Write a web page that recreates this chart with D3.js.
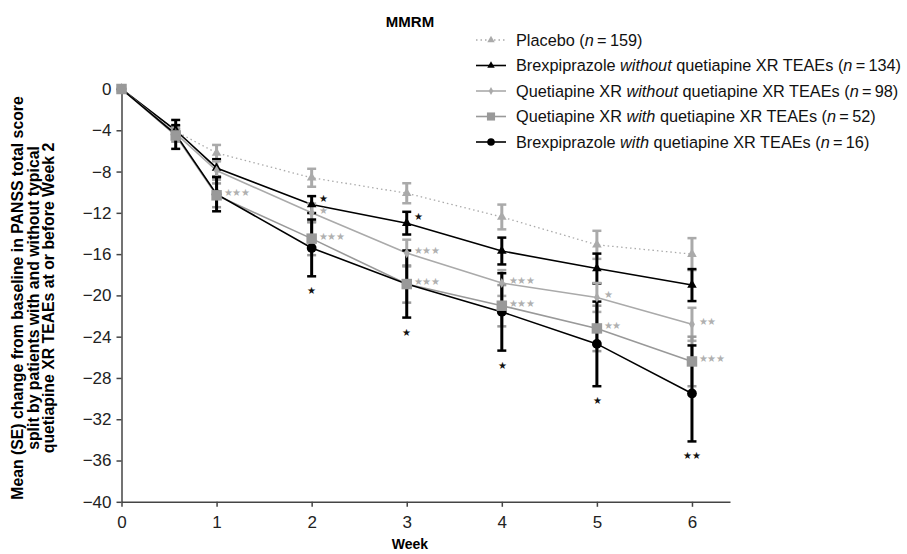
<!DOCTYPE html>
<html>
<head>
<meta charset="utf-8">
<script src="https://cdn.jsdelivr.net/npm/d3@7"></script>
<style>
  body { margin: 0; background: #fff; }
  text { font-family: "Liberation Sans", Arial, sans-serif; }
  .axis path, .axis line { stroke: #444; stroke-width: 1.5; }
</style>
</head>
<body>
<div class="plot"></div>
<script>
// Data
var weeks = [0, 0.57, 1, 2, 3, 4, 5, 6];

var placeboMean = [0, -4.1, -6.2, -8.6, -10.1, -12.4, -15.1, -16.0];
var placeboSE   = [0, 0.5, 0.78, 0.87, 0.97, 1.2, 1.36, 1.55];

var brexWithoutMean = [0, -4.0, -7.65, -11.2, -13.0, -15.7, -17.4, -19.0];
var brexWithoutSE   = [0, 0.5, 0.85, 0.82, 1.1, 1.3, 1.45, 1.55];

var quetWithoutMean = [0, -4.3, -7.9, -12.0, -15.9, -18.8, -20.2, -22.8];
var quetWithoutSE   = [0, 0.5, 0.9, 0.9, 1.3, 1.25, 1.4, 1.6];

var quetWithMean = [0, -4.5, -10.3, -14.5, -18.9, -21.0, -23.2, -26.4];
var quetWithSE   = [0, 0.6, 1.15, 1.6, 1.8, 2.0, 2.2, 2.4];

var brexWithMean = [0, -4.4, -10.2, -15.4, -18.9, -21.6, -24.7, -29.5];
var brexWithSE   = [0, 1.4, 1.65, 2.75, 3.25, 3.75, 4.1, 4.65];

var xTicks = [0, 1, 2, 3, 4, 5, 6];
var yTicks = [0, -4, -8, -12, -16, -20, -24, -28, -32, -36, -40];

// significance marks: series key, week, label, placement
var stars = [
  {s: "quetWith", w: 1, t: "***", pos: "right"},
  {s: "brexWithout", w: 2, t: "*", pos: "right"},
  {s: "quetWithout", w: 2, t: "*", pos: "right"},
  {s: "quetWith", w: 2, t: "***", pos: "right"},
  {s: "brexWith", w: 2, t: "*", pos: "below"},
  {s: "brexWithout", w: 3, t: "*", pos: "right"},
  {s: "quetWithout", w: 3, t: "***", pos: "right"},
  {s: "quetWith", w: 3, t: "***", pos: "right"},
  {s: "brexWith", w: 3, t: "*", pos: "below"},
  {s: "quetWithout", w: 4, t: "***", pos: "right"},
  {s: "quetWith", w: 4, t: "***", pos: "right"},
  {s: "brexWith", w: 4, t: "*", pos: "below"},
  {s: "quetWithout", w: 5, t: "*", pos: "right"},
  {s: "quetWith", w: 5, t: "**", pos: "right"},
  {s: "brexWith", w: 5, t: "*", pos: "below"},
  {s: "quetWithout", w: 6, t: "**", pos: "right"},
  {s: "quetWith", w: 6, t: "***", pos: "right"},
  {s: "brexWith", w: 6, t: "**", pos: "below"}
];

var ts = "\u2009";
var series = [
  {key: "placebo", name: ["Placebo (", "n", ts + "=" + ts + "159)"], mean: placeboMean, se: placeboSE,
   color: "#aaa", bar: "#aaa", dash: "1.5,3", symbol: d3.symbolTriangle, size: 40, z: 0},
  {key: "brexWithout", name: ["Brexpiprazole ", "without", " quetiapine XR TEAEs (", "n", ts + "=" + ts + "134)"], mean: brexWithoutMean, se: brexWithoutSE,
   color: "#000", bar: "#000", dash: null, symbol: d3.symbolTriangle, size: 40, z: 1},
  {key: "quetWithout", name: ["Quetiapine XR ", "without", " quetiapine XR TEAEs (", "n", ts + "=" + ts + "98)"], mean: quetWithoutMean, se: quetWithoutSE,
   color: "#aaa", bar: "#aaa", dash: null, symbol: d3.symbolDiamond, size: 30, z: 2},
  {key: "quetWith", name: ["Quetiapine XR ", "with", " quetiapine XR TEAEs (", "n", ts + "=" + ts + "52)"], mean: quetWithMean, se: quetWithSE,
   color: "#999", bar: "#999", dash: null, symbol: d3.symbolSquare, size: 110, z: 4},
  {key: "brexWith", name: ["Brexpiprazole ", "with", " quetiapine XR TEAEs (", "n", ts + "=" + ts + "16)"], mean: brexWithMean, se: brexWithSE,
   color: "#000", bar: "#000", dash: null, symbol: d3.symbolCircle, size: 75, z: 3}
];

var width = 907, height = 554;

var svg = d3.select(".plot").append("svg")
    .attr("width", width)
    .attr("height", height);

svg.append("rect").attr("width", "100%").attr("height", "100%").attr("fill", "white");

var xScale = d3.scaleLinear().domain([0, 6.4]).range([121.5, 730]);
var yScale = d3.scaleLinear().domain([-40, 0]).range([501.8, 89]);

var fmt = function (d) { return d < 0 ? "\u2212" + Math.abs(d) : "" + d; };

// Axes
var xAxisG = svg.append("g")
    .attr("class", "axis")
    .attr("transform", "translate(0," + yScale(-40) + ")")
    .call(d3.axisBottom(xScale).tickValues(xTicks).tickFormat(d3.format("d"))
        .tickSize(5).tickPadding(9).tickSizeOuter(0));

var yAxisG = svg.append("g")
    .attr("class", "axis")
    .attr("transform", "translate(" + xScale(0) + ",0)")
    .call(d3.axisLeft(yScale).tickValues(yTicks).tickFormat(fmt).tickSize(5).tickPadding(5).tickSizeOuter(0));

[xAxisG, yAxisG].forEach(function (g) {
  g.attr("font-family", null).attr("font-size", null);
  g.selectAll("text")
      .style("font-family", "'Liberation Sans', Arial, sans-serif")
      .style("font-size", "17px")
      .attr("fill", "#222");
});

// Title
svg.append("text")
    .attr("x", 410).attr("y", 27)
    .attr("text-anchor", "middle")
    .attr("font-size", 15).attr("font-weight", "bold")
    .text("MMRM");

// Axis labels
svg.append("text")
    .attr("x", 410).attr("y", 549)
    .attr("text-anchor", "middle")
    .attr("font-size", 14).attr("font-weight", "bold")
    .text("Week");

var yLab = ["Mean (SE) change from baseline in PANSS total score",
            "split by patients with and without typical",
            "quetiapine XR TEAEs at or before Week 2"];
svg.append("g")
    .attr("transform", "translate(23,298) rotate(-90)")
    .selectAll("text")
    .data(yLab)
    .enter().append("text")
    .attr("x", 0)
    .attr("y", function (d, i) { return i * 15.5; })
    .attr("text-anchor", "middle")
    .attr("font-size", 15.8).attr("font-weight", "bold")
    .text(function (d) { return d; });

// Lines
var line = d3.line()
    .x(function (d, i) { return xScale(weeks[i]); })
    .y(function (d) { return yScale(d); });

series.forEach(function (s) {
  svg.append("path")
      .datum(s.mean)
      .attr("fill", "none")
      .attr("stroke", s.color)
      .attr("stroke-width", s.dash ? 1.3 : 1.6)
      .attr("stroke-dasharray", s.dash)
      .attr("d", line);
});

// Error bars then markers
series.forEach(function (s) {
  var g = svg.append("g");
  s.mean.forEach(function (m, i) {
    if (s.se[i] <= 0) return;
    var x = xScale(weeks[i]);
    var y0 = yScale(m + s.se[i]), y1 = yScale(m - s.se[i]);
    g.append("line").attr("x1", x).attr("x2", x).attr("y1", y0).attr("y2", y1)
        .attr("stroke", s.bar).attr("stroke-width", 3);
    [y0, y1].forEach(function (yy) {
      g.append("line").attr("x1", x - 4.5).attr("x2", x + 4.5).attr("y1", yy).attr("y2", yy)
          .attr("stroke", s.bar).attr("stroke-width", 2.5);
    });
  });
});

series.slice().sort(function (a, b) { return a.z - b.z; }).forEach(function (s) {
  svg.append("g").selectAll("path")
      .data(s.mean)
      .enter().append("path")
      .attr("transform", function (d, i) { return "translate(" + xScale(weeks[i]) + "," + yScale(d) + ")"; })
      .attr("d", d3.symbol().type(s.symbol).size(s.size))
      .attr("fill", s.color);
});

// Significance stars
var byKey = {};
series.forEach(function (s) { byKey[s.key] = s; });
var isBlack = function (d) { return byKey[d.s].color === "#000"; };

svg.append("g").selectAll("text")
    .data(stars)
    .enter().append("text")
    .attr("x", function (d) {
      var x = xScale(d.w);
      return d.pos === "right" ? x + 7 : x;
    })
    .attr("y", function (d) {
      var s = byKey[d.s], i = weeks.indexOf(d.w);
      if (d.pos === "below") return yScale(s.mean[i] - s.se[i]) + 18;
      return yScale(s.mean[i]) + (isBlack(d) ? -3 : 1);
    })
    .attr("text-anchor", function (d) { return d.pos === "right" ? "start" : "middle"; })
    .attr("font-family", "DejaVu Sans")
    .attr("font-size", 9.5)
    .attr("letter-spacing", -0.5)
    .attr("fill", function (d) { return isBlack(d) ? "#111" : "#b0b0b0"; })
    .text(function (d) { return d.t.replace(/\*/g, "\u2605"); });

// Legend
var legend = svg.append("g").attr("transform", "translate(476,40)");
series.forEach(function (s, i) {
  var g = legend.append("g").attr("transform", "translate(0," + i * 25.5 + ")");
  g.append("line").attr("x1", 0).attr("x2", 30).attr("y1", 0).attr("y2", 0)
      .attr("stroke", s.color).attr("stroke-width", s.dash ? 1.3 : 1.6)
      .attr("stroke-dasharray", s.dash);
  g.append("path").attr("transform", "translate(15,0)")
      .attr("d", d3.symbol().type(s.symbol).size(s.size * 0.6))
      .attr("fill", s.color);
  var t = g.append("text").attr("x", 40).attr("y", 5.5).attr("font-size", 16.3).attr("fill", "#111");
  s.name.forEach(function (part, j) {
    t.append("tspan").attr("font-style", j % 2 === 1 ? "italic" : "normal").text(part);
  });
});
</script>
</body>
</html>
